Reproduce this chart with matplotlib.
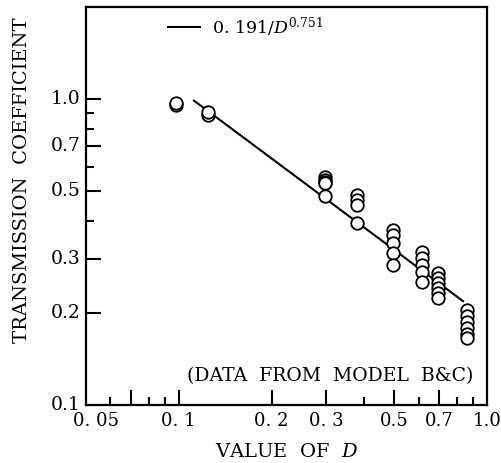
import matplotlib
matplotlib.use("Agg")
import matplotlib.pyplot as plt
import matplotlib.transforms as mtransforms
import numpy as np

plt.rcParams['font.family'] = ['DejaVu Serif']
plt.rcParams['mathtext.fontset'] = 'dejavuserif'

# data
D_obs = [0.098, 0.098,
         0.124, 0.124,
         0.298, 0.298, 0.298, 0.298, 0.298,
         0.378, 0.378, 0.378, 0.378,
         0.495, 0.495, 0.495, 0.495, 0.495,
         0.615, 0.615, 0.615, 0.615, 0.615,
         0.693, 0.693, 0.693, 0.693, 0.693, 0.693,
         0.86, 0.86, 0.86, 0.86, 0.86, 0.86]
T_obs = [0.955, 0.97,
         0.89, 0.905,
         0.556, 0.545, 0.535, 0.53, 0.482,
         0.486, 0.467, 0.45, 0.393,
         0.373, 0.359, 0.338, 0.314, 0.287,
         0.316, 0.302, 0.287, 0.272, 0.252,
         0.270, 0.260, 0.250, 0.241, 0.232, 0.224,
         0.204, 0.195, 0.187, 0.178, 0.171, 0.166]
coef = 0.191
expo = 0.751
D_fit_range = [0.112, 0.836]

x_ticks = [0.05, 0.1, 0.2, 0.3, 0.5, 0.7, 1.0]
x_ticklabels = ["0. 05", "0. 1", "0. 2", "0. 3", "0.5", "0.7", "1.0"]
x_major = [0.07, 0.1, 0.2, 0.3, 0.5, 0.7]
x_minor = [0.06, 0.08, 0.09, 0.4, 0.6, 0.8, 0.9]
y_ticks = [0.1, 0.2, 0.3, 0.5, 0.7, 1.0]
y_ticklabels = ["0.1", "0.2", "0.3", "0.5", "0.7", "1.0"]
y_minor = [0.4, 0.6, 0.8, 0.9]

fig = plt.figure(figsize=(5.02, 4.63), dpi=100)
ax = fig.add_axes([86/502, 1-405/463, (487-86)/502, (405-7)/463])
ax.set_xscale('log')
ax.set_yscale('log')
ax.set_xlim(0.05, 1.0)
ax.set_ylim(0.1, 2.0)

Dl = np.geomspace(D_fit_range[0], D_fit_range[1], 100)
ax.plot(Dl, coef / Dl**expo, color='black', lw=1.5, zorder=2)
ax.plot(D_obs, T_obs, 'o', ms=9.0, mfc='white', mec='black', mew=1.3, zorder=3)

# ticks
ax.xaxis.set_major_locator(matplotlib.ticker.FixedLocator(x_major))
ax.xaxis.set_minor_locator(matplotlib.ticker.FixedLocator(x_minor))
ax.xaxis.set_major_formatter(matplotlib.ticker.NullFormatter())
ax.xaxis.set_minor_formatter(matplotlib.ticker.NullFormatter())
ax.yaxis.set_major_locator(matplotlib.ticker.FixedLocator(y_ticks[1:]))
ax.yaxis.set_minor_locator(matplotlib.ticker.FixedLocator(y_minor))
ax.yaxis.set_major_formatter(matplotlib.ticker.NullFormatter())
ax.yaxis.set_minor_formatter(matplotlib.ticker.NullFormatter())
ax.tick_params(which='major', direction='in', length=10.8, width=1.5,
               top=False, right=False)
ax.tick_params(which='minor', direction='in', length=5.8, width=1.5,
               top=False, right=False)
for s in ax.spines.values():
    s.set_linewidth(1.6)

fs = 13
xt = ax.get_xaxis_transform()
for v, lab in zip(x_ticks, x_ticklabels):
    off = 10/100 if v == 0.05 else 0
    tr = xt + mtransforms.ScaledTranslation(off, 0, fig.dpi_scale_trans)
    ax.text(v, -0.018, lab, transform=tr, ha='center', va='top', fontsize=fs)
yt = ax.get_yaxis_transform()
for v, lab in zip(y_ticks, y_ticklabels):
    ax.text(-0.014, v, lab, transform=yt, ha='right', va='center', fontsize=13.5)

ax.text(0.5, -0.095, "VALUE  OF  $D$", transform=ax.transAxes,
        ha='center', va='top', fontsize=14)
fig.text(22/502, 1-180/463, "TRANSMISSION  COEFFICIENT", rotation=90,
         ha='center', va='center', fontsize=14)
ax.text(0.965, 0.072, "(DATA  FROM  MODEL  B&C)", transform=ax.transAxes,
        ha='right', va='center', fontsize=13.6)

# legend
ax.plot([0.092, 0.117], [1.72, 1.72], color='black', lw=1.5)
ax.text(0.128, 1.72, r"0. 191/$D^{0.751}$", ha='left', va='center', fontsize=12.5)

fig.savefig("out.png", dpi=100)
